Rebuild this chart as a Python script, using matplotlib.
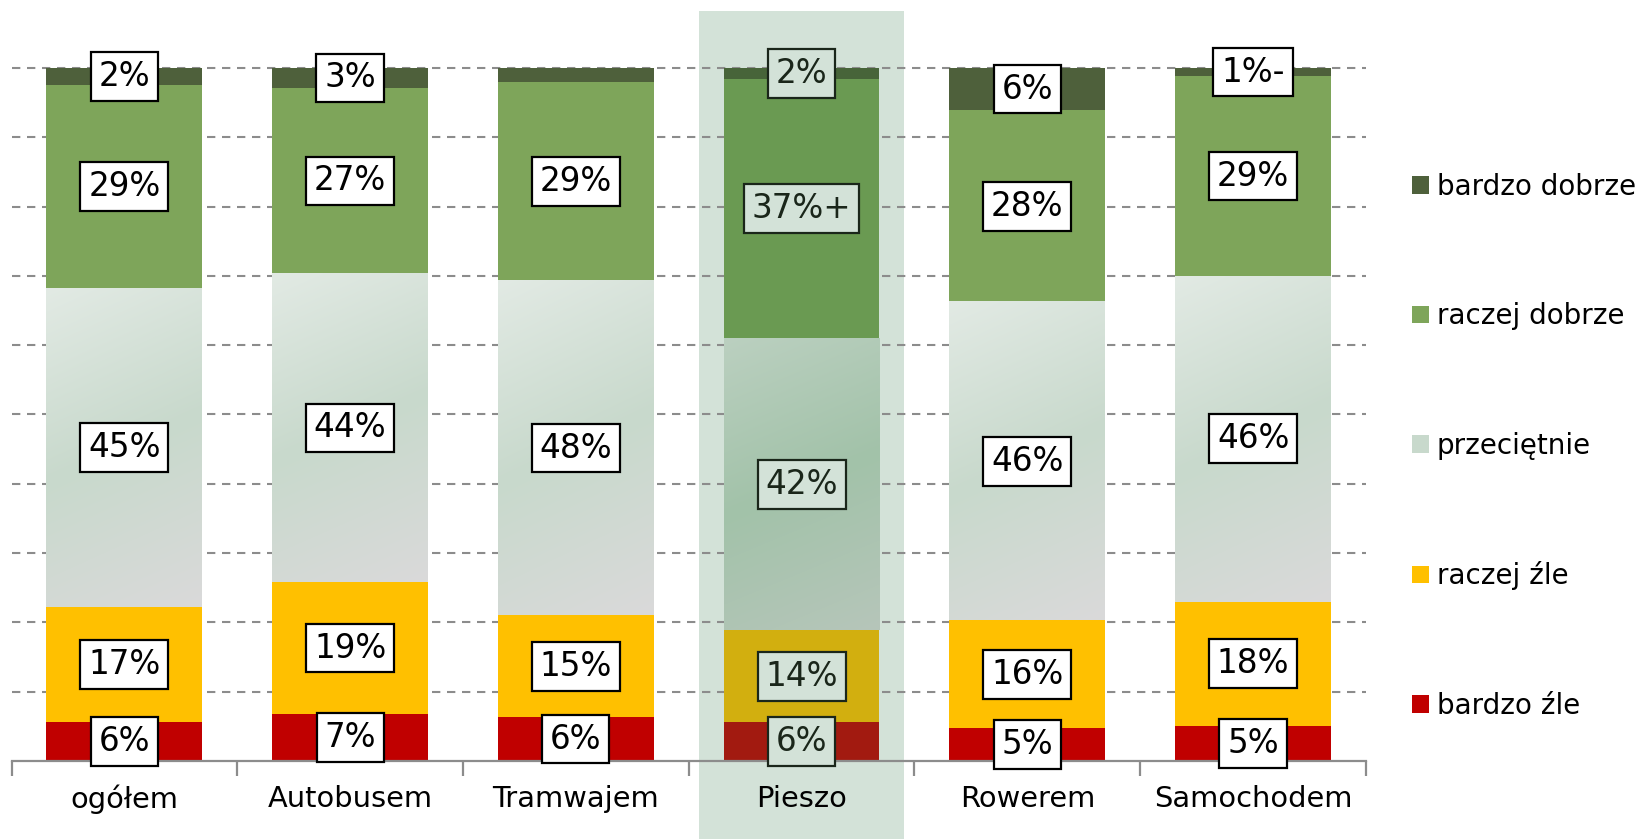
import numpy as np
import matplotlib
matplotlib.use("Agg")
import matplotlib.pyplot as plt
from matplotlib.patches import Patch, Rectangle
from matplotlib.colors import to_rgb
import matplotlib.transforms as mtransforms

plt.rcParams['font.family'] = ['DejaVu Sans']

# ---------------- data ----------------
categories = ["ogółem", "Autobusem", "Tramwajem", "Pieszo", "Rowerem", "Samochodem"]
series_names = ["bardzo źle", "raczej źle", "przeciętnie", "raczej dobrze", "bardzo dobrze"]
# segment heights (%)
bardzo_zle = [5.55, 6.8, 6.3, 5.55, 4.7, 5.1]
raczej_zle = [16.7, 19.0, 14.7, 13.3, 15.6, 17.9]
przecietnie = [46.0, 44.5, 48.3, 42.1, 45.9, 47.0]
raczej_dobrze = [29.2, 26.8, 28.7, 37.4, 27.7, 28.8]
bardzo_dobrze = [2.5, 2.9, 2.0, 1.6, 6.1, 1.2]
# printed labels (None = no label shown)
labels_bz = ["6%", "7%", "6%", "6%", "5%", "5%"]
labels_rz = ["17%", "19%", "15%", "14%", "16%", "18%"]
labels_p = ["45%", "44%", "48%", "42%", "46%", "46%"]
labels_rd = ["29%", "27%", "29%", "37%+", "28%", "29%"]
labels_bd = ["2%", "3%", None, "2%", "6%", "1%-"]
highlight = "Pieszo"

series = [bardzo_zle, raczej_zle, przecietnie, raczej_dobrze, bardzo_dobrze]
series_labels = [labels_bz, labels_rz, labels_p, labels_rd, labels_bd]

# ---------------- styles ----------------
colors = ["#C00000", "#FFC000", "#D3E0D6", "#7EA55A", "#4E603B"]
colors_hl = ["#A21A10", "#D2AF0F", "#A8C4AE", "#6A9A52", "#476439"]
grad_normal = ["#E2EAE4", "#C8D9CC", "#DADADA"]
grad_hl = ["#BBD0C0", "#A2C2A9", "#B6C6BA"]
hl_bg = "#D3E2D8"
grid_col = "#8C8C8C"

fig = plt.figure(figsize=(16.39, 8.39), dpi=100)
ax = fig.add_axes([0.00702, 0.0930, 0.8334 - 0.00702, 0.9273 - 0.0930])

x = np.arange(len(categories))
width = 0.69
vals = np.array(series, dtype=float)
totals = vals.sum(axis=0)
pct = vals / totals * 100.0

def make_grad(stops, n=200, m=60):
    v = np.linspace(0, 1, n)[:, None]
    u = np.linspace(0, 1, m)[None, :]
    t = np.clip(0.82 * v + 0.18 * u, 0, 1)
    c = [np.array(to_rgb(s)) for s in stops]
    lo = t <= 0.5
    a = (t / 0.5)[..., None]
    b = ((t - 0.5) / 0.5)[..., None]
    img = np.where(lo[..., None], c[0] * (1 - a) + c[1] * a, c[1] * (1 - b) + c[2] * b)
    return img

bottom = np.zeros(len(categories))
for si, (name, row) in enumerate(zip(series_names, pct)):
    cols = [colors_hl[si] if c == highlight else colors[si] for c in categories]
    bars = ax.bar(x, row, width, bottom=bottom, color=cols, zorder=2, linewidth=0)
    if name == "przeciętnie":
        for bi, b in enumerate(bars):
            stops = grad_hl if categories[bi] == highlight else grad_normal
            x0, y0 = b.get_x(), b.get_y()
            w, h = b.get_width(), b.get_height()
            ax.imshow(make_grad(stops), extent=[x0, x0 + w, y0, y0 + h],
                      origin='upper', aspect='auto', zorder=2.1, interpolation='bilinear')
    for bi, b in enumerate(bars):
        lab = series_labels[si][bi]
        if lab is None:
            continue
        is_hl = categories[bi] == highlight
        ax.text(b.get_x() + b.get_width() / 2, b.get_y() + b.get_height() / 2, lab,
                ha='center', va='center', fontsize=23.5,
                color="#1A261A" if is_hl else "black", zorder=5,
                bbox=dict(boxstyle='square,pad=0.24',
                          fc=hl_bg if is_hl else "white",
                          ec="#1A261A" if is_hl else "black", lw=1.6))
    bottom += row

ax.set_xlim(-0.5, len(categories) - 0.5)
ax.set_ylim(0, 101)

# highlight background
hi = categories.index(highlight)
trans = mtransforms.blended_transform_factory(ax.transData, ax.transAxes)
ax.add_patch(Rectangle((hi - 0.455, -0.14), 0.91, 1.212, transform=trans,
                       facecolor=hl_bg, edgecolor='none', zorder=0.1, clip_on=False))

# grid
ax.set_yticks(np.arange(10, 101, 10))
ax.yaxis.grid(True, linestyle=(0, (4, 3.2)), color=grid_col, linewidth=1.5, zorder=0.5)
for gl in ax.yaxis.get_gridlines():
    gl.set_clip_on(False)
ax.set_axisbelow(True)
ax.tick_params(axis='y', left=False, labelleft=False)

for s in ["top", "right", "left"]:
    ax.spines[s].set_visible(False)
ax.spines["bottom"].set_color(grid_col)
ax.spines["bottom"].set_linewidth(1.6)
ax.patch.set_alpha(0)

ax.set_xticks(x)
ax.set_xticklabels(categories, fontsize=20.8)
ax.tick_params(axis='x', which='major', length=0, pad=17)
ax.set_xticks(np.arange(-0.5, len(categories), 1.0), minor=True)
ax.tick_params(axis='x', which='minor', length=11, width=1.6, color=grid_col, direction='out')

# legend
handles = [Patch(facecolor=(grad_normal[1] if n == "przeciętnie" else colors[i]), edgecolor='none', label=n)
           for i, n in enumerate(series_names)]
handles = handles[::-1]
fig.legend(handles=handles, loc='center left', bbox_to_anchor=(0.8615, 0.468),
           frameon=False, fontsize=20, handlelength=0.6, handleheight=0.6,
           handletextpad=0.3, labelspacing=3.65, borderpad=0, borderaxespad=0)

fig.savefig("out.png", dpi=100)
